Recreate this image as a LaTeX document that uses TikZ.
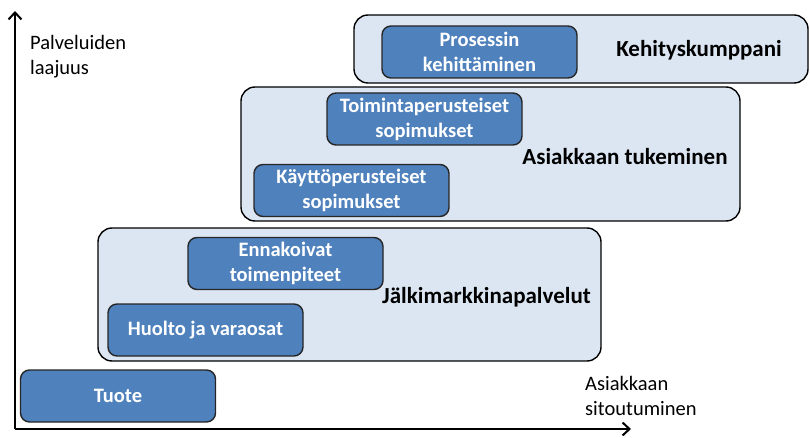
\documentclass[tikz,border=0pt]{standalone}
\usepackage{fontspec}
\setmainfont{Carlito}
\usetikzlibrary{arrows.meta}

\definecolor{levelfill}{HTML}{DCE6F2}
\definecolor{servfill}{HTML}{4F81BD}

\begin{document}
\begin{tikzpicture}[x=1pt,y=-1pt,
    level/.style={draw=black, line width=1.4pt, fill=levelfill, rounded corners=14pt, inner sep=0pt},
    serv/.style={draw=black!85, line width=1.4pt, fill=servfill, rounded corners=9pt, inner sep=0pt,
        minimum width=195pt, minimum height=52pt, text=white, align=center,
        font=\fontsize{20.5}{25}\selectfont\bfseries},
    levellabel/.style={font=\fontsize{23}{28}\selectfont\bfseries},
    axislabel/.style={align=left, anchor=north west, inner sep=0pt, font=\fontsize{20.5}{25}\selectfont}]
        \useasboundingbox (0,0) rectangle (810,438);
        % axes
        \coordinate (O) at (15,429);
        \coordinate (Ytop) at (15,11);
        \coordinate (Xend) at (631,429);
        \draw[line width=2pt, -{Straight Barb[length=7pt,width=13pt,line width=2pt]}] (O) -- (Ytop);
        \draw[line width=2pt, -{Straight Barb[length=7pt,width=13pt,line width=2pt]}] (O) -- (Xend);
        \node[axislabel] (Yl) at (30,35) {Palveluiden\\laajuus};
        \node[axislabel] (Xl) at (585,376) {Asiakkaan\\sitoutuminen};
        % levels
        \node[level, minimum width=454pt, minimum height=68pt] (L3) at (581,49) {};
        \node[level, minimum width=499pt, minimum height=134pt] (L2) at (490.5,154) {};
        \node[level, minimum width=503pt, minimum height=133pt] (L1) at (349.5,294.5) {};
        \node[levellabel] (K) at (699,50) {Kehityskumppani};
        \node[levellabel] (A) at (625,157) {Asiakkaan tukeminen};
        \node[levellabel] (J) at (486.5,297) {Jälkimarkkinapalvelut};
        % services
        \node[serv] (S6) at (479.5,52) {Prosessin\\kehittäminen};
        \node[serv] (S5) at (424.5,119) {Toimintaperusteiset\\sopimukset};
        \node[serv] (S4) at (351.5,190.5) {Käyttöperusteiset\\sopimukset};
        \node[serv] (S3) at (285.5,263.5) {Ennakoivat\\toimenpiteet};
        \node[serv] (S2) at (205.5,330) {Huolto ja varaosat};
        \node[serv] (S1) at (118,396) {Tuote};
      \end{tikzpicture}
\end{document}
